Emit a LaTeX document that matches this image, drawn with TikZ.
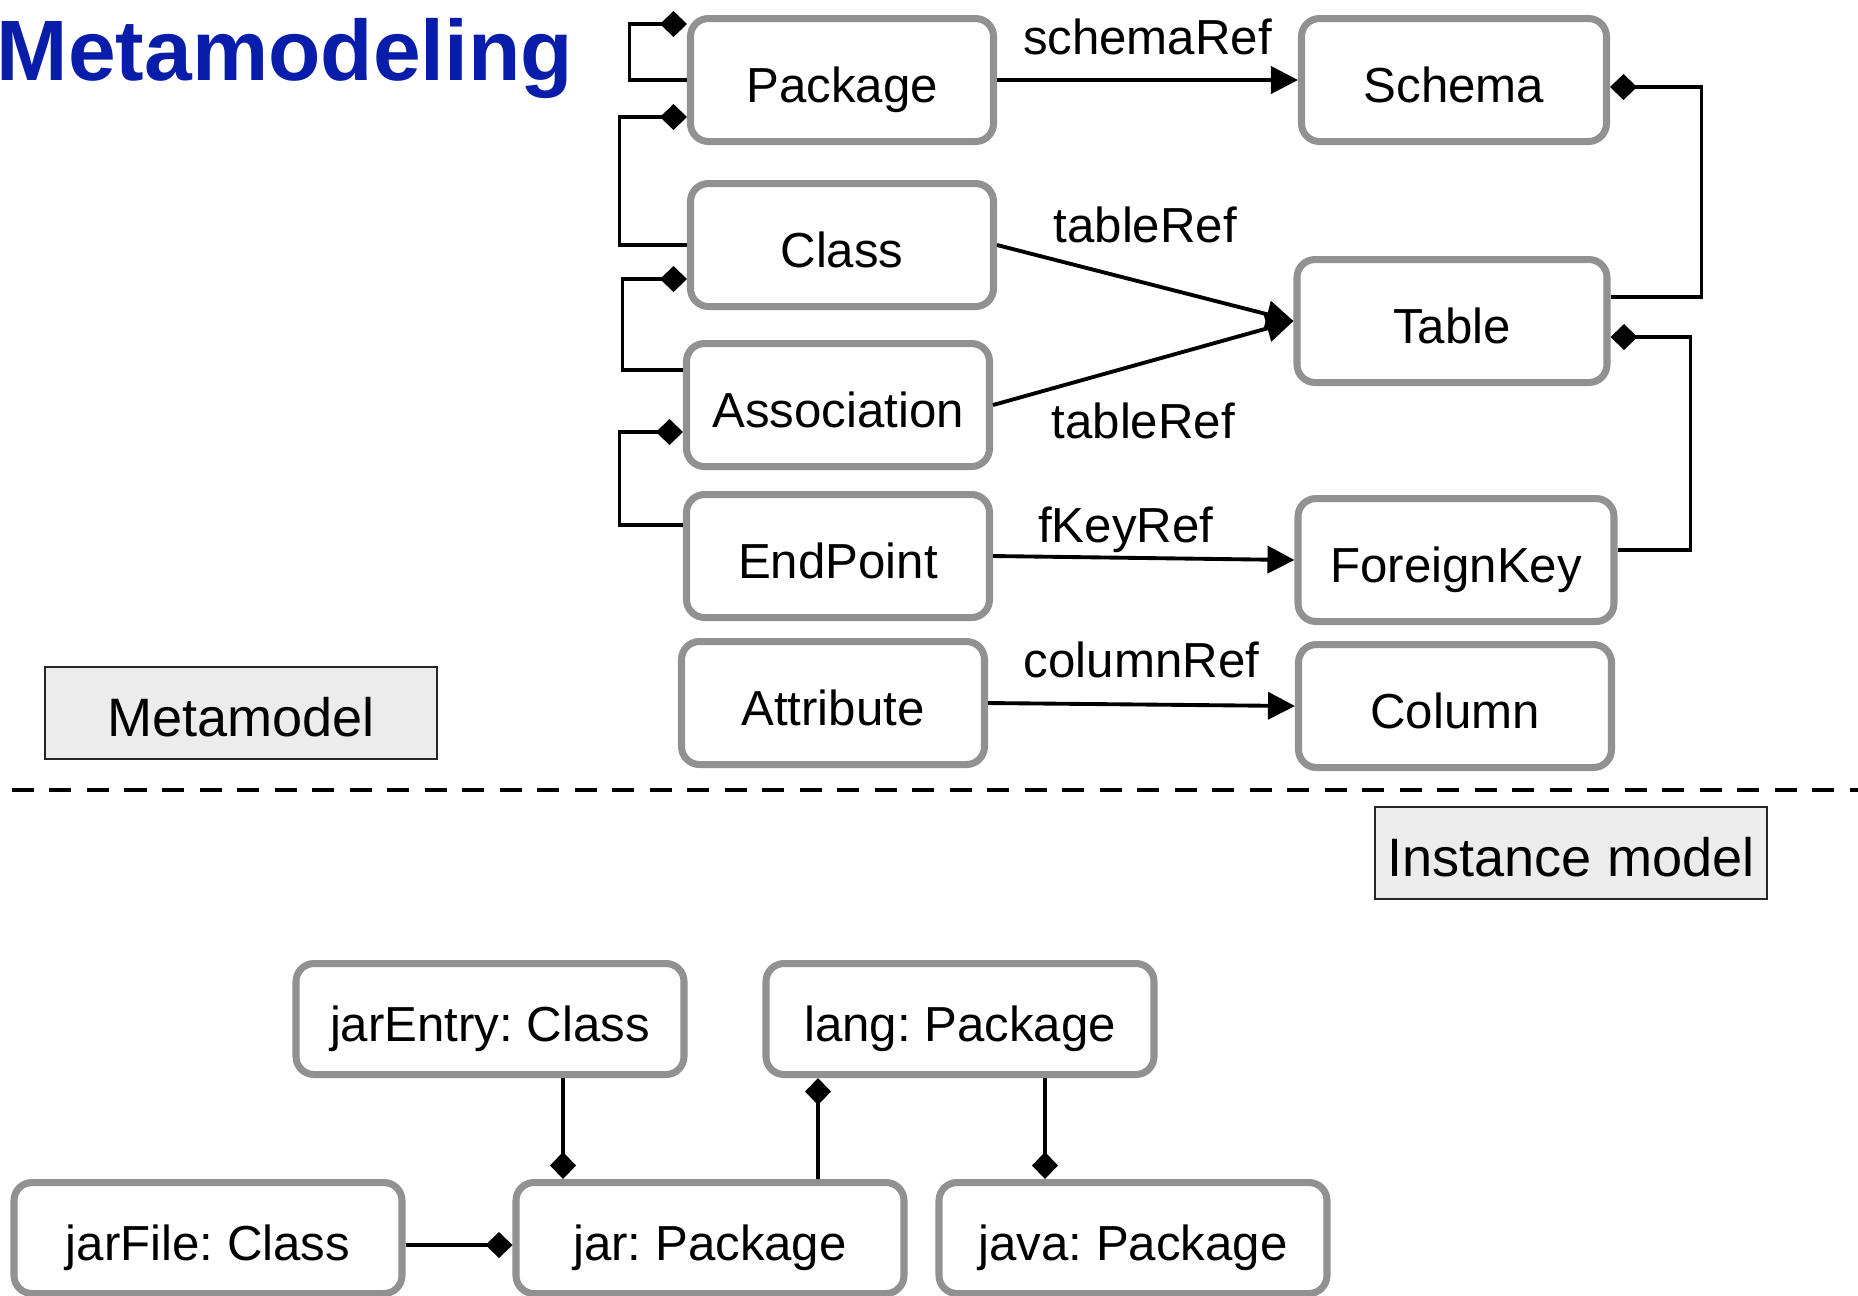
\documentclass[tikz,border=0pt]{standalone}
\usepackage{fontspec}
\setmainfont{Liberation Sans}
\usepackage{tikz}
\usetikzlibrary{shapes,arrows.meta,positioning,calc}
\usepackage{xcolor}
\definecolor{boxgray}{RGB}{145,145,145}
\definecolor{tagfill}{RGB}{236,236,236}
\definecolor{titleblue}{RGB}{8,30,170}
\frenchspacing

\begin{document}
\begin{tikzpicture}[node distance=1.6cm]
    \tikzstyle{mbox} = [rectangle, rounded corners=0.18cm, draw=boxgray, line width=2pt, minimum width=3.03cm, minimum height=1.23cm, text height=0.50cm, text depth=0.06cm, font=\fontsize{14}{16}\selectfont]
    \tikzstyle{ibox} = [mbox, minimum width=3.88cm, minimum height=1.11cm]
    \tikzstyle{tag} = [rectangle, draw=black!85, fill=tagfill, line width=0.8pt, minimum width=3.92cm, minimum height=0.92cm, text height=0.52cm, text depth=0.06cm, font=\fontsize{15.4}{18}\selectfont]
    \tikzstyle{ref} = [line width=1.1pt, -{Triangle[length=0.27cm, width=0.27cm]}, font=\fontsize{14}{16}\selectfont]
    \tikzstyle{comp} = [line width=1.1pt, -{Diamond[length=0.27cm, width=0.26cm]}]
    \useasboundingbox (0,0) rectangle (18.58,-12.95);

    % Titel
    \node[anchor=base west, inner sep=0pt, text=titleblue, font=\fontsize{24.4}{28}\selectfont\bfseries] (title) at (-0.04,-0.80) {Metamodeling};

    % Metamodell links
    \node[mbox] (package) at (8.42,-0.80) {Package};
    \node[mbox, below of=package, yshift=-0.05cm] (class) {Class};
    \node[mbox, below of=class, xshift=-0.04cm] (assoc) {Association};
    \node[mbox, below of=assoc, yshift=0.09cm] (endpoint) {EndPoint};
    \node[mbox, below of=endpoint, xshift=-0.05cm, yshift=0.13cm] (attribute) {Attribute};

    % Metamodell rechts
    \node[mbox, minimum width=3.05cm, right of=package, xshift=4.52cm] (schema) {Schema};
    \node[mbox, minimum width=3.10cm, below of=schema, xshift=-0.02cm, yshift=-0.81cm] (table) {Table};
    \node[mbox, minimum width=3.16cm, right of=endpoint, xshift=4.58cm, yshift=-0.04cm] (fkey) {ForeignKey};
    \node[mbox, minimum width=3.13cm, right of=attribute, xshift=4.62cm, yshift=-0.03cm] (column) {Column};

    \node[tag] (metamodel) at (2.41,-7.13) {Metamodel};
    \node[tag] (instmodel) at (15.71,-8.53) {Instance model};

    % Trennlinie
    \draw[line width=1.4pt, dash pattern=on 0.22cm off 0.155cm] (0.12,-7.90) -- (18.58,-7.90);

    % Instanzmodell
    \node[ibox] (jarentry) at (4.90,-10.19) {jarEntry: Class};
    \node[ibox, right of=jarentry, xshift=3.10cm] (lang) {lang: Package};
    \node[ibox, below of=jarentry, xshift=-2.82cm, yshift=-0.59cm] (jarfile) {jarFile: Class};
    \node[ibox, right of=jarfile, xshift=3.42cm] (jar) {jar: Package};
    \node[ibox, right of=jar, xshift=2.63cm] (java) {java: Package};

    % Referenzen
    \draw[ref] (package.east) -- node[yshift=0.43cm] {schemaRef} (schema.west);
    \draw[ref] (class.east) -- node[yshift=0.58cm] {tableRef} (table.west);
    \draw[ref] (assoc.east) -- node[yshift=-0.58cm] {tableRef} (table.west);
    \draw[ref] (endpoint.east) -- node[xshift=-0.18cm, yshift=0.28cm] {fKeyRef} (fkey.west);
    \draw[ref] (attribute.east) -- node[yshift=0.45cm] {columnRef} (column.west);

    % Kompositionen
    \draw[comp] (package.west) -- ++(-0.575cm,0) |- ([yshift=0.56cm]package.west);
    \draw[comp] (class.west) -- ++(-0.675cm,0) |- ([yshift=-0.37cm]package.west);
    \draw[comp] ([yshift=0.35cm]assoc.west) -- ++(-0.605cm,0) |- ([yshift=-0.34cm]class.west);
    \draw[comp] ([yshift=0.31cm]endpoint.west) -- ++(-0.635cm,0) |- ([yshift=-0.27cm]assoc.west);
    \draw[comp] ([yshift=0.24cm]table.east) -- ++(0.91cm,0) |- ([yshift=-0.07cm]schema.east);
    \draw[comp] ([yshift=0.10cm]fkey.east) -- ++(0.73cm,0) |- ([yshift=-0.16cm]table.east);

    \draw[comp] ([xshift=0.73cm]jarentry.south) -- ([xshift=-1.47cm]jar.north);
    \draw[comp] ([xshift=1.08cm]jar.north) -- ([xshift=-1.42cm]lang.south);
    \draw[comp] ([xshift=0.85cm]lang.south) -- ([xshift=-0.88cm]java.north);
    \draw[comp] ([yshift=-0.07cm]jarfile.east) -- ([yshift=-0.07cm]jar.west);
\end{tikzpicture}
\end{document}
